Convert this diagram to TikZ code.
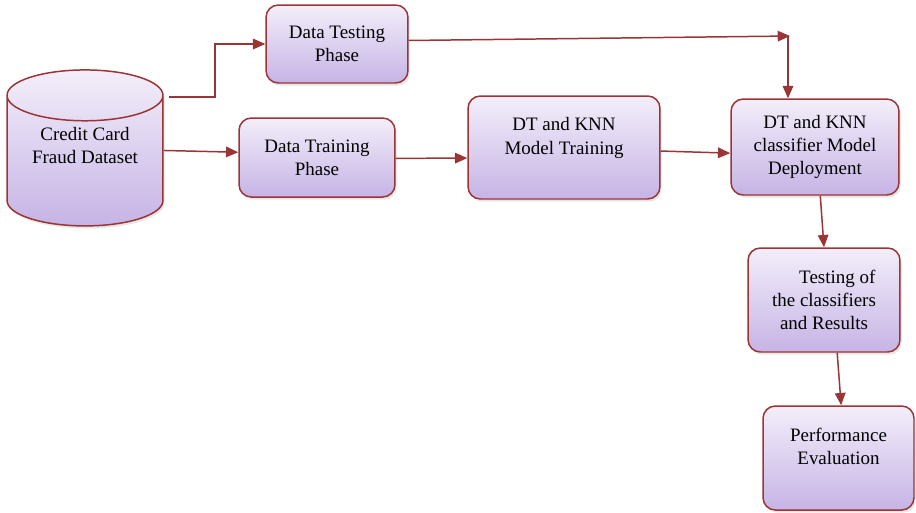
\documentclass[tikz,border=0pt]{standalone}
\usepackage{fontspec}
\setmainfont{Liberation Serif}
\usetikzlibrary{arrows.meta,shapes.geometric,shadows}
\definecolor{bordeRojo}{RGB}{155,52,52}
\definecolor{lilaClaro}{RGB}{243,238,250}
\definecolor{lilaOscuro}{RGB}{198,180,229}

\begin{document}
\begin{tikzpicture}[
  x=0.02cm, y=-0.02cm,
  font=\fontsize{10.8}{13.3}\selectfont,
  caja/.style={rectangle, rounded corners=7pt, draw=bordeRojo, line width=0.85pt,
    top color=lilaClaro, bottom color=lilaOscuro, align=center, inner sep=2pt,
    drop shadow={opacity=0.2, shadow xshift=1pt, shadow yshift=-1.5pt}},
  datos/.style={cylinder, shape border rotate=90, aspect=0.48, draw=bordeRojo,
    line width=0.85pt, top color=lilaClaro, bottom color=lilaOscuro,
    minimum width=3.12cm, minimum height=3.12cm, inner sep=0pt,
    drop shadow={opacity=0.2, shadow xshift=1pt, shadow yshift=-1.5pt}},
  flecha/.style={draw=bordeRojo, line width=0.85pt,
    -{Triangle[length=7pt, width=6pt]}}
]
  \useasboundingbox (0,0) rectangle (916,512);

  % Base de datos de partida (texto subido hacia la tapa)
  \node[datos] (dataset) at (85,161)
    {\raisebox{4.9pt}[0pt][0pt]{\begin{tabular}{@{}c@{}}Credit Card\\Fraud Dataset\end{tabular}}};

  % Fases de entrenamiento y prueba
  \node[caja, minimum width=2.84cm, minimum height=1.56cm] (testing) at (337,44) {Data Testing\\Phase};
  \node[caja, minimum width=3.12cm, minimum height=1.58cm] (training) at (317,157.5) {Data Training\\Phase};
  \node[caja, minimum width=3.84cm, minimum height=2.06cm] (modelo) at (564,147.5) {DT and KNN\\Model Training\\\mbox{}};

  % Despliegue, pruebas y evaluación
  \node[caja, minimum width=3.36cm, minimum height=1.92cm] (despliegue) at (815,147) {DT and KNN\\classifier Model\\Deployment};
  \node[caja, minimum width=3.04cm, minimum height=2.08cm] (resultados) at (824,300) {\hspace*{1.4em}Testing of\\the classifiers\\and Results};
  \node[caja, minimum width=3.02cm, minimum height=2.08cm] (evaluacion) at (838.5,458) {Performance\\Evaluation\\\mbox{}};

  % Puntos auxiliares de las conexiones
  \coordinate (salida) at (169,97);
  \coordinate (codo) at (215,97);
  \coordinate (esquina) at (790,36);

  % Conexiones
  \draw[flecha] (salida) -- (codo) |- (testing.west);
  \draw[flecha] ([yshift=6pt]dataset.east) -- ([yshift=3pt]training.west);
  \draw[flecha] ([yshift=2pt]testing.east) -- (esquina);
  \draw[flecha] (esquina -| 788,0) -- (788,0 |- despliegue.north);
  \draw[flecha] ([yshift=-0.5pt]training.east) -- ([yshift=-6pt]modelo.west);
  \draw[flecha] ([yshift=-2pt]modelo.east) -- ([yshift=-3.5pt]despliegue.west);
  \draw[flecha] ([xshift=3pt]despliegue.south) -- (resultados.north);
  \draw[flecha] ([xshift=7.5pt]resultados.south) -- ([xshift=1.5pt]evaluacion.north);

\end{tikzpicture}
\end{document}
